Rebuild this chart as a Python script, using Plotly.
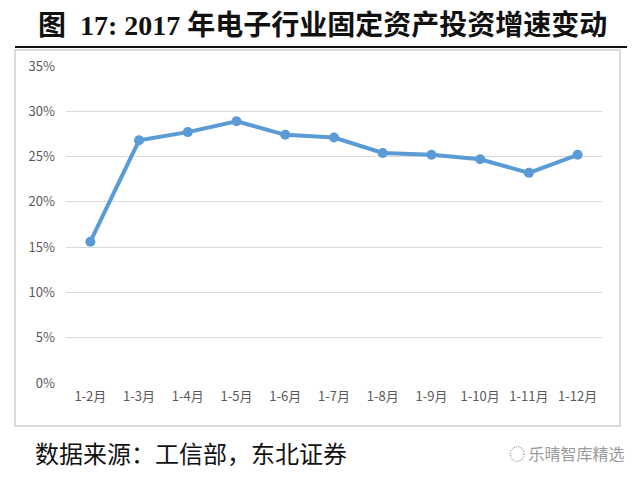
import plotly.graph_objects as go

categories = ["1-2月", "1-3月", "1-4月", "1-5月", "1-6月", "1-7月", "1-8月", "1-9月", "1-10月", "1-11月", "1-12月"]
growth = [15.6, 26.8, 27.7, 28.9, 27.4, 27.1, 25.4, 25.2, 24.7, 23.2, 25.2]
y_ticks = [0, 5, 10, 15, 20, 25, 30, 35]
y_labels = [f"{v}%" for v in y_ticks]

title_text = "<b>图  17: 2017 年电子行业固定资产投资增速变动</b>"
source_text = "数据来源：工信部，东北证券"
watermark_text = "乐晴智库精选"

W, H = 632, 472
L, R, T, B = 58, 38, 58, 97
PW, PH = W - L - R, H - T - B


def px(x):
    return (x - L) / PW


def py(y):
    return (H - B - y) / PH


fig = go.Figure()
fig.add_trace(go.Scatter(
    x=categories, y=growth, mode="lines+markers",
    line=dict(color="#5B9BD5", width=4),
    marker=dict(color="#5B9BD5", size=10),
    hoverinfo="skip", showlegend=False,
))

fig.update_layout(
    width=W, height=H,
    margin=dict(l=L, r=R, t=T, b=B),
    paper_bgcolor="white", plot_bgcolor="white",
    font=dict(family="Noto Sans CJK SC, Noto Sans, sans-serif", color="#595959", size=13),
    xaxis=dict(type="category", showgrid=False, showline=False, ticks="",
               tickfont=dict(size=13, color="#595959"), range=[-0.5, 10.5],
               ticklabelstandoff=4),
    yaxis=dict(range=[0, 35], tickvals=y_ticks, ticktext=y_labels,
               showgrid=True, gridcolor="#D9D9D9", gridwidth=1,
               zeroline=False, showline=False, ticks="",
               tickfont=dict(size=13, color="#595959"), ticklabelstandoff=10),
    shapes=[
        dict(type="rect", xref="paper", yref="paper",
             x0=px(7), x1=px(612), y0=py(418), y1=py(42),
             line=dict(color="#D0D0D0", width=1.5), fillcolor="rgba(0,0,0,0)", layer="below"),
        dict(type="line", xref="paper", yref="paper",
             x0=px(7), x1=px(619), y0=py(39), y1=py(39),
             line=dict(color="#111111", width=2)),
    ],
    annotations=[
        dict(text=title_text, xref="paper", yref="paper",
             x=px(314), y=py(18), xanchor="center", yanchor="middle",
             showarrow=False,
             font=dict(family="Liberation Serif, Noto Sans CJK SC, serif", size=28, color="#111111")),
        dict(text=source_text, xref="paper", yref="paper",
             x=px(25), y=py(444), xanchor="left", yanchor="middle",
             showarrow=False,
             font=dict(family="Noto Sans CJK SC, sans-serif", size=24, color="#111111")),
        dict(text="◌ " + watermark_text, xref="paper", yref="paper",
             x=px(619), y=py(445), xanchor="right", yanchor="middle",
             showarrow=False,
             font=dict(family="Noto Sans CJK SC, sans-serif", size=16, color="#9A9A9A")),
    ],
)

fig.write_html("out.html")
